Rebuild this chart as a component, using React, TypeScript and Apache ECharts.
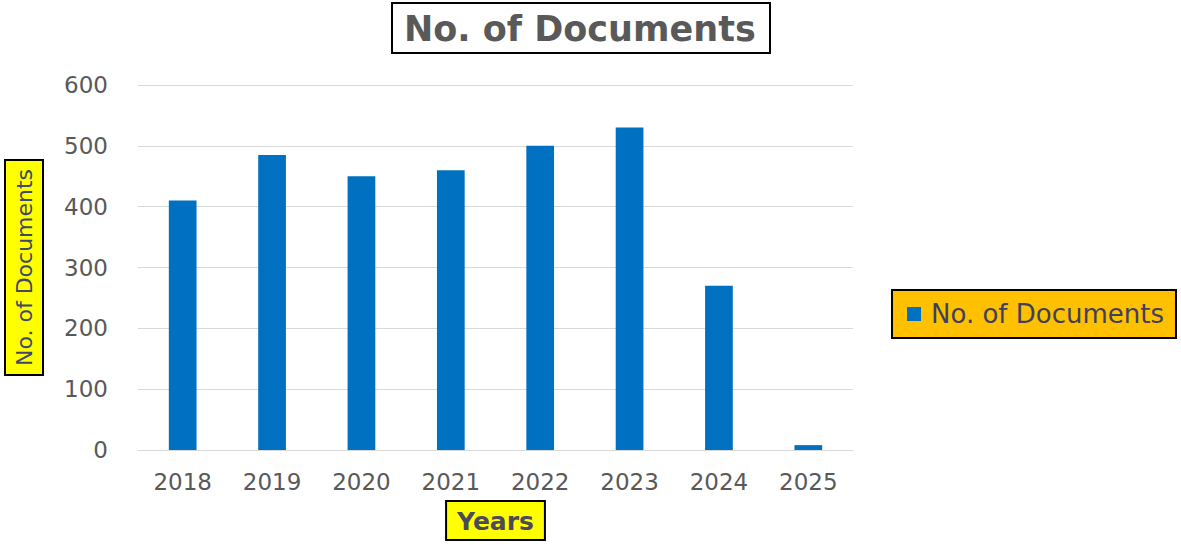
import React, { useEffect, useRef } from "react";
import * as echarts from "echarts";

const categories = ["2018", "2019", "2020", "2021", "2022", "2023", "2024", "2025"];
const documents = [410, 485, 450, 460, 500, 530, 270, 8];
const seriesName = "No. of Documents";
const titleText = "No. of Documents";
const yAxisName = "No. of Documents";
const xAxisName = "Years";

export default function App() {
  const ref = useRef<HTMLDivElement>(null);
  useEffect(() => {
    if (!ref.current) return;
    const chart = echarts.init(ref.current, undefined, { renderer: "svg" });
    chart.setOption({
      animation: false,
      backgroundColor: "#ffffff",
      title: {
        text: titleText,
        left: 392,
        top: 3,
        padding: [5, 15, 3, 12],
        borderColor: "#000000",
        borderWidth: 2,
        backgroundColor: "#ffffff",
        textStyle: {
          fontFamily: "DejaVu Sans",
          fontWeight: "bold",
          fontSize: 35,
          lineHeight: 42,
          color: "#595959",
        },
      },
      legend: {
        data: [seriesName],
        left: 892,
        top: 290,
        orient: "vertical",
        backgroundColor: "#FFC000",
        borderColor: "#000000",
        borderWidth: 2,
        padding: [11, 12, 11, 15],
        itemWidth: 14,
        itemHeight: 14,
        itemGap: 0,
        icon: "rect",
        textStyle: {
          fontFamily: "DejaVu Sans",
          fontSize: 26,
          color: "#3f3f5f",
          padding: [0, 0, 0, 5],
        },
      },
      grid: { left: 138, right: 328, top: 85, bottom: 95, outerBoundsMode: "none", containLabel: false },
      xAxis: {
        type: "category",
        data: categories,
        name: xAxisName,
        nameLocation: "middle",
        nameGap: 52,
        nameTextStyle: {
          fontFamily: "DejaVu Sans",
          fontWeight: "bold",
          fontSize: 25,
          color: "#4a4a5a",
          backgroundColor: "#FFFF00",
          borderColor: "#000000",
          borderWidth: 2,
          padding: [7, 10, 5, 10],
          align: "center",
          verticalAlign: "top",
        },
        axisLine: { show: true, lineStyle: { color: "#d9d9d9", width: 1 } },
        axisTick: { show: false },
        axisLabel: {
          fontFamily: "DejaVu Sans",
          fontSize: 23,
          color: "#595959",
          margin: 20,
        },
      },
      yAxis: {
        type: "value",
        min: 0,
        max: 600,
        interval: 100,
        name: yAxisName,
        nameLocation: "middle",
        nameRotate: 90,
        nameGap: 96,
        nameTextStyle: {
          fontFamily: "DejaVu Sans",
          fontSize: 22,
          color: "#3f4a6a",
          backgroundColor: "#FFFF00",
          borderColor: "#000000",
          borderWidth: 2,
          padding: [7, 8, 7, 8],
        },
        axisLine: { show: false },
        axisTick: { show: false },
        splitLine: { lineStyle: { color: "#d9d9d9", width: 1 } },
        axisLabel: {
          fontFamily: "DejaVu Sans",
          fontSize: 23,
          color: "#595959",
          margin: 30,
        },
      },
      series: [
        {
          name: seriesName,
          type: "bar",
          data: documents,
          barWidth: "31%",
          itemStyle: { color: "#0070C0" },
        },
      ],
    });
    return () => chart.dispose();
  }, []);
  return <div ref={ref} style={{ width: 1181, height: 545, position: "absolute", left: 0, top: 0 }} />;
}
